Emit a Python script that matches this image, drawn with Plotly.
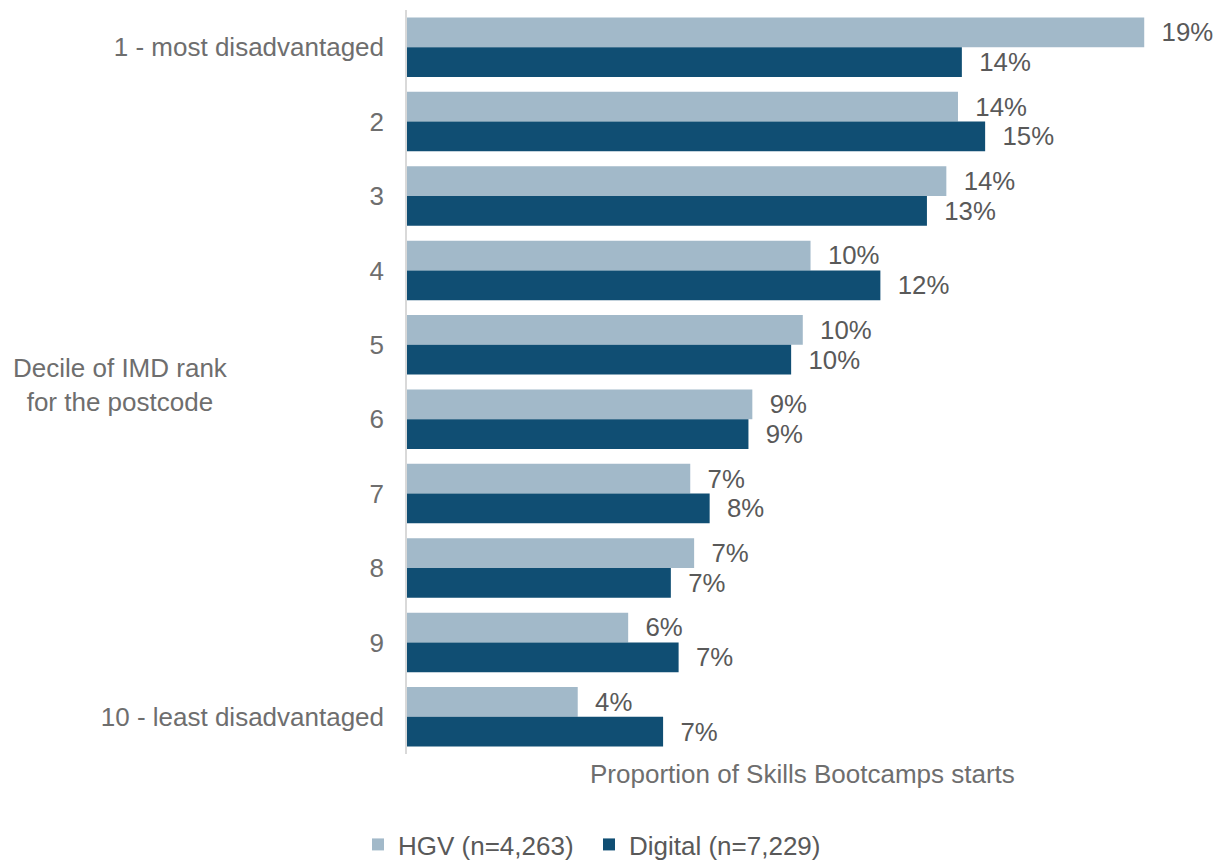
import plotly.graph_objects as go

# Decile of IMD rank for the learner's postcode
deciles = ["1 - most disadvantaged", "2", "3", "4", "5", "6", "7", "8", "9",
           "10 - least disadvantaged"]

# Share of Skills Bootcamps starts in each decile
hgv_share = [0.190, 0.142, 0.139, 0.104, 0.102, 0.089, 0.073, 0.074, 0.057, 0.044]
digital_share = [0.143, 0.149, 0.134, 0.122, 0.099, 0.088, 0.078, 0.068, 0.070, 0.066]

series_names = ["HGV (n=4,263)", "Digital (n=7,229)"]
series_colors = ["#A2B9C9", "#104E73"]

FONT = "Liberation Sans, Arial, sans-serif"
LABEL_GREY = "#595959"
AXIS_GREY = "#6E6E6E"
NBSP = "\u00a0"

fig = go.Figure()
for name, values, color in zip(series_names, [hgv_share, digital_share], series_colors):
    fig.add_trace(go.Bar(
        y=deciles,
        x=values,
        name=name,
        orientation="h",
        marker=dict(color=color, line=dict(width=0)),
        texttemplate=NBSP * 2 + "%{x:.0%}",
        textposition="outside",
        cliponaxis=False,
        textfont=dict(family=FONT, size=26, color=LABEL_GREY),
    ))

fig.update_layout(
    width=1226,
    height=860,
    margin=dict(l=407, r=29, t=10, b=106, autoexpand=False),
    paper_bgcolor="white",
    plot_bgcolor="white",
    barmode="group",
    bargap=0.2,
    bargroupgap=0,
    font=dict(family=FONT, size=26, color=AXIS_GREY),
    xaxis=dict(
        range=[0, 0.2036],
        showticklabels=False,
        showgrid=False,
        zeroline=False,
        ticks="",
        showline=False,
    ),
    yaxis=dict(
        autorange="reversed",
        showgrid=False,
        zeroline=False,
        ticks="",
        showline=True,
        linecolor="#D9D9D9",
        linewidth=1.5,
        ticklabelstandoff=16,
        tickfont=dict(family=FONT, size=26, color=AXIS_GREY),
    ),
    showlegend=True,
    legend=dict(
        orientation="h",
        xref="container",
        x=0.292,
        xanchor="left",
        yref="container",
        y=0.018,
        yanchor="middle",
        font=dict(family=FONT, size=26, color=LABEL_GREY),
        itemwidth=30,
        entrywidth=186,
        entrywidthmode="pixels",
        traceorder="normal",
    ),
    annotations=[
        dict(
            text="Proportion of Skills Bootcamps starts",
            xref="paper", yref="paper", x=0.5, y=0,
            xanchor="center", yanchor="top", yshift=-3,
            showarrow=False,
            font=dict(family=FONT, size=26, color=AXIS_GREY),
        ),
        dict(
            text="Decile of IMD rank<br>for the postcode",
            xref="paper", yref="paper", x=-0.363, y=0.496,
            xanchor="center", yanchor="middle",
            align="center",
            showarrow=False,
            font=dict(family=FONT, size=26, color=AXIS_GREY),
        ),
    ],
)

fig.write_html("out.html")
